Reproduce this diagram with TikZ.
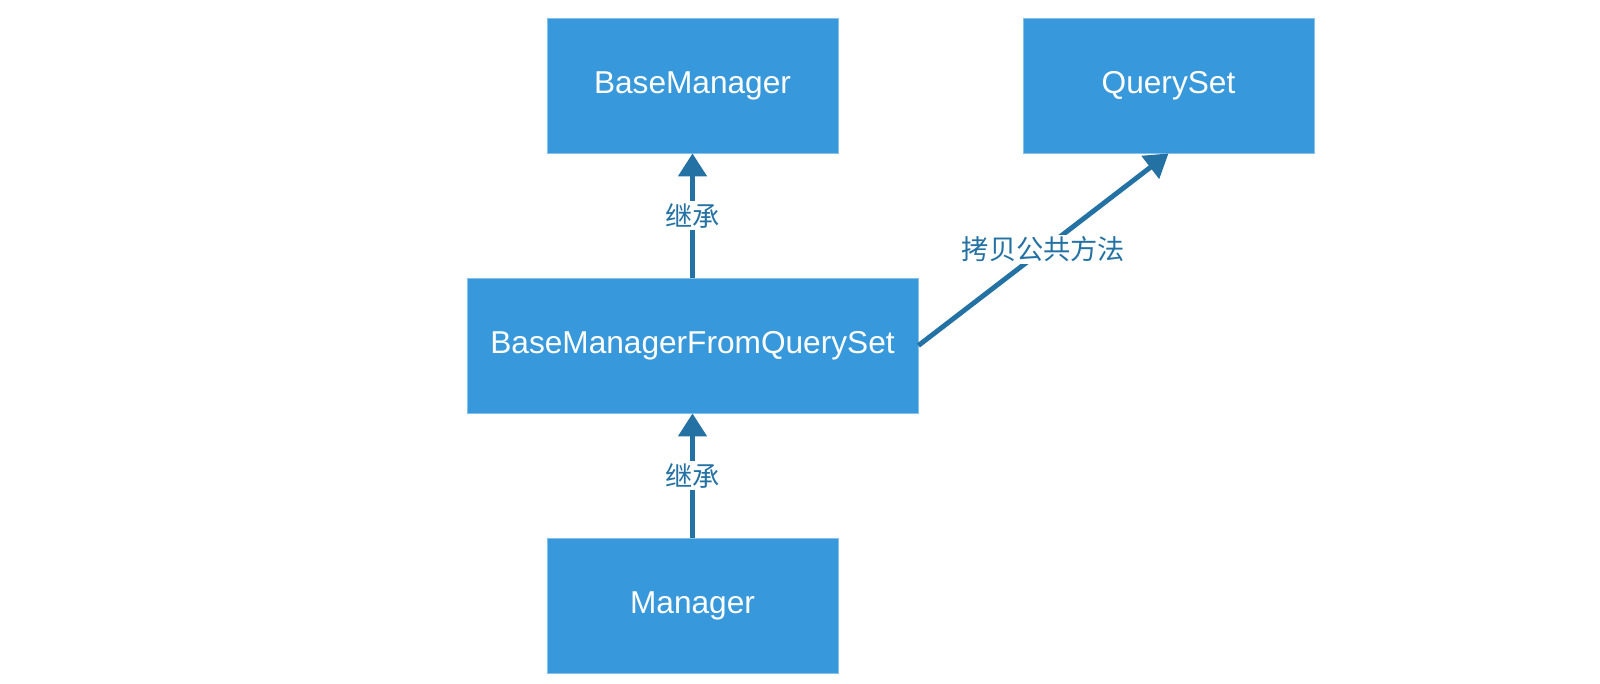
\documentclass[tikz,border=0pt]{standalone}
\usepackage{fontspec}
\setmainfont{Liberation Sans}
\newfontfamily\cjk{Noto Sans CJK SC}
\usetikzlibrary{arrows.meta}
\definecolor{boxblue}{HTML}{3798DB}
\definecolor{boxline}{HTML}{85C1E9}
\definecolor{arrowblue}{HTML}{2471A3}
\tikzset{cls/.style={rectangle,fill=boxblue,draw=boxline,line width=.5pt,minimum height=2.7cm,
  text=white,font=\fontsize{18}{20}\selectfont,inner sep=0pt},
 arrow/.style={-{Triangle[length=4.6mm,width=5.6mm]},line width=2.8pt,draw=arrowblue},
 rel/.style={fill=white,text=arrowblue,font=\cjk\fontsize{15.5}{17}\selectfont,inner sep=1pt}}

\begin{document}
\begin{tikzpicture}[x=1cm,y=1cm]
 \useasboundingbox (0,0) rectangle (32,13.68);
 \node[cls,minimum width=5.82cm] (base) at (13.85,11.97) {BaseManager};
 \node[cls,minimum width=5.82cm] (qs) at (23.37,11.97) {QuerySet};
 \node[cls,minimum width=9.02cm] (fromqs) at (13.85,6.77) {BaseManagerFromQuerySet};
 \node[cls,minimum width=5.82cm] (mgr) at (13.85,1.57) {Manager};
 \draw[arrow] (fromqs) -- node[rel] {继承} (base);
 \draw[arrow] (mgr) -- node[rel] {继承} (fromqs);
 \draw[arrow] (fromqs.east) -- node[rel] {拷贝公共方法} (qs.south);
\end{tikzpicture}
\end{document}
